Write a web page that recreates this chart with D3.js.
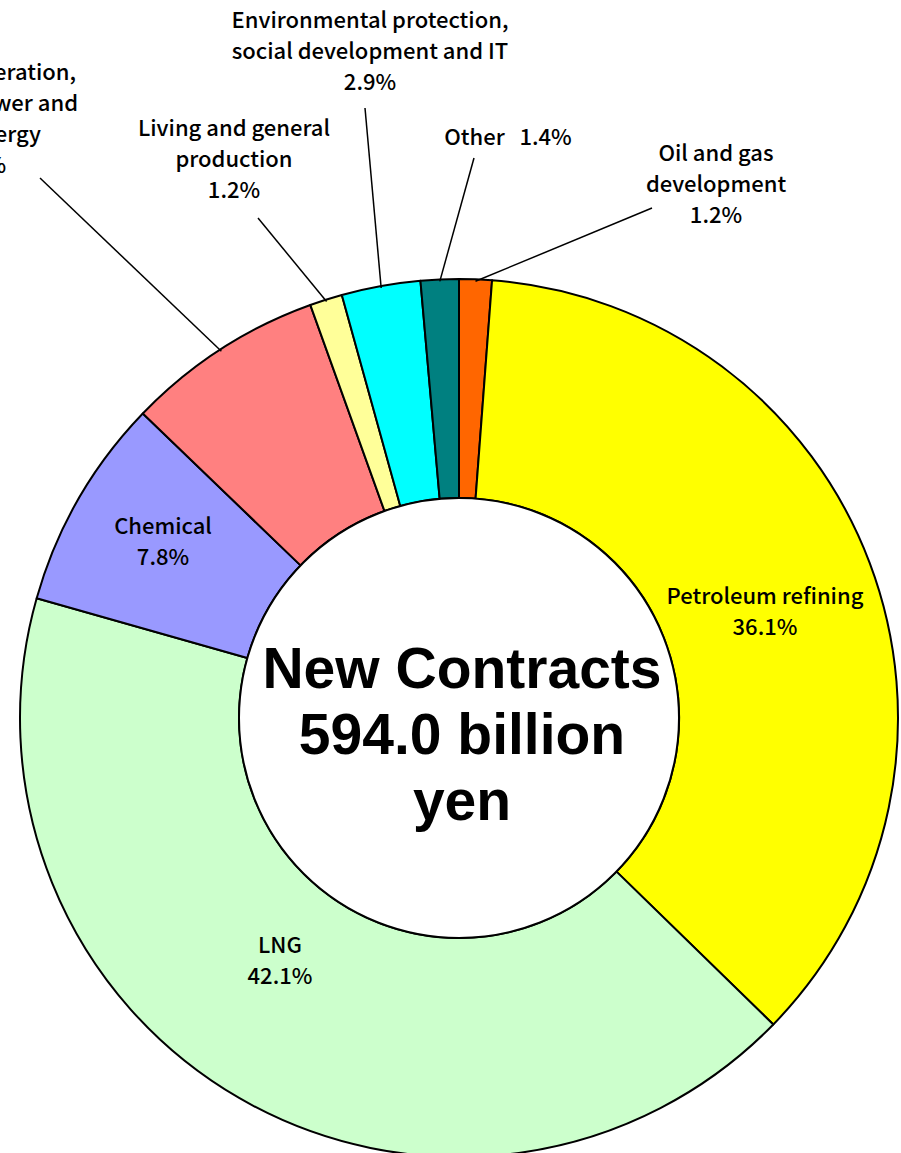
<!DOCTYPE html>
<html>
<head>
<meta charset="utf-8">
<script src="https://cdn.jsdelivr.net/npm/d3@7"></script>
<style>
  body { margin: 0; background: #fff; }
  svg { display: block; }
  text { font-family: "Noto Sans CJK JP", "Noto Sans", sans-serif; fill: #000; }
</style>
</head>
<body>
<div id="chart"></div>
<script>
// slices, clockwise from 12 o'clock
var categories = [
  "Oil and gas development",
  "Petroleum refining",
  "LNG",
  "Chemical",
  "Power generation, nuclear power and new energy",
  "Living and general production",
  "Environmental protection, social development and IT",
  "Other"
];
var shares = [1.2, 36.1, 42.1, 7.8, 7.3, 1.2, 2.9, 1.4];
var labelLines = [
  ["Oil and gas", "development", "1.2%"],
  ["Petroleum refining", "36.1%"],
  ["LNG", "42.1%"],
  ["Chemical", "7.8%"],
  ["Power generation,", "nuclear power and", "new energy", "7.3%"],
  ["Living and general", "production", "1.2%"],
  ["Environmental protection,", "social development and IT", "2.9%"],
  ["Other\u00a0\u00a0 1.4%"]
];
var colors = ["#FF6600", "#FFFF00", "#CCFFCC", "#9999FF", "#FF8080", "#FFFF99", "#00FFFF", "#008080"];
var centerText = ["New Contracts", "594.0 billion", "yen"];

var width = 901,
	height = 1153,
	cx = 459,
	cy = 718,
	outerR = 439,
	innerR = 220,
	lineH = 31;

// label placement (label centre x, first line centre y), and where leader starts
var labelPos = [
	{x: 716, y: 153, lead: [652, 208]},
	{x: 765, y: 596},
	{x: 280, y: 945},
	{x: 163, y: 526},
	{x: -20, y: 72, lead: [40, 178]},
	{x: 234, y: 128, lead: [258, 218]},
	{x: 370, y: 20, lead: [365, 108]},
	{x: 508, y: 137, lead: [474, 158]}
];

var svg = d3.select("#chart")
	.append("svg")
	.attr("width", width)
	.attr("height", height);
var g = svg.append("g").attr("transform", "translate(" + cx + "," + cy + ")");

var pie = d3.pie().sort(null).value(function(d){ return d; });
var arcs = pie(shares);
var arc = d3.arc().innerRadius(innerR).outerRadius(outerR);

g.selectAll("path.slice")
	.data(arcs)
	.enter().append("path")
	.attr("class", "slice")
	.attr("d", arc)
	.style("fill", function(d, i){ return colors[i]; })
	.style("stroke", "#000")
	.style("stroke-width", 2)
	.style("stroke-linejoin", "round");

g.append("circle")
	.attr("r", innerR)
	.style("fill", "#fff")
	.style("stroke", "#000")
	.style("stroke-width", 2);

// leader lines from outside labels to slice edge
g.selectAll("line.leader")
	.data(arcs.filter(function(d, i){ return labelPos[i].lead; }))
	.enter().append("line")
	.attr("class", "leader")
	.each(function(d){
		var p = labelPos[d.index].lead;
		var a = (d.startAngle + d.endAngle) / 2;
		d3.select(this)
			.attr("x1", p[0] - cx).attr("y1", p[1] - cy)
			.attr("x2", Math.sin(a) * (outerR - 2)).attr("y2", -Math.cos(a) * (outerR - 2));
	})
	.style("stroke", "#000")
	.style("stroke-width", 1.5);

// labels
svg.selectAll("text.lbl")
	.data(arcs)
	.enter().append("text")
	.attr("class", "lbl")
	.attr("text-anchor", "middle")
	.style("font-size", "22px")
	.style("font-weight", 500)
	.each(function(d, i){
		var t = d3.select(this);
		labelLines[i].forEach(function(s, k){
			t.append("tspan")
				.attr("x", labelPos[i].x)
				.attr("y", labelPos[i].y + k * lineH)
				.attr("dy", "0.35em")
				.text(s);
		});
	});

var ct = svg.append("text")
	.attr("text-anchor", "middle")
	.style("font-family", "'Liberation Sans', Arial, sans-serif")
	.style("font-size", "57px")
	.style("font-weight", "bold");
centerText.forEach(function(s, k){
	ct.append("tspan")
		.attr("x", cx + 3)
		.attr("y", 668 + k * 66)
		.attr("dy", "0.35em")
		.text(s);
});
</script>
</body>
</html>
